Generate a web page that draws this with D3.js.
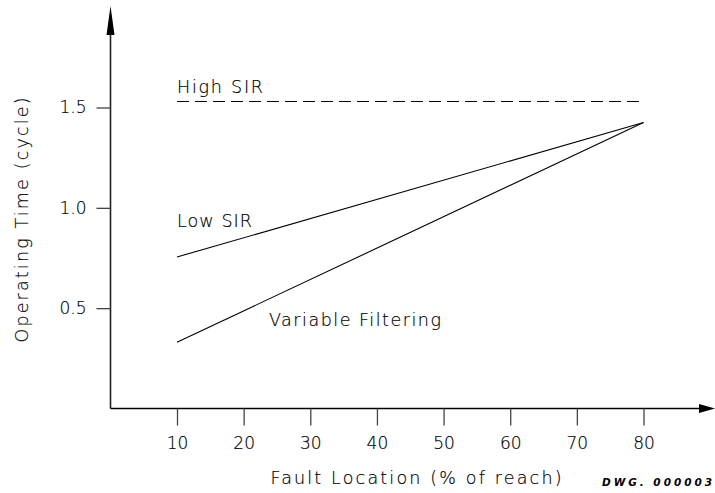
<!DOCTYPE html>
<html>
<head>
<meta charset="utf-8">
<script src="https://cdn.jsdelivr.net/npm/d3@7/dist/d3.min.js"></script>
<style>
  html, body { margin: 0; padding: 0; background: #fff; }
  svg { display: block; }
  text { font-family: "DejaVu Sans", "Liberation Sans", sans-serif; fill: #000; }
  .thin { font-weight: 200; stroke: #000; stroke-width: 0.18px; }
</style>
</head>
<body>
<svg id="chart" width="715" height="493"></svg>
<script>
// Operating time vs. fault location for three relay settings
const xTicks = [10, 20, 30, 40, 50, 60, 70, 80];
const yTicks = [0.5, 1.0, 1.5];
const yTickLabels = ["0.5", "1.0", "1.5"];

const highSIR = [{x: 10, y: 1.53}, {x: 80, y: 1.53}];
const lowSIR = [{x: 10, y: 0.755}, {x: 80, y: 1.425}];
const variableFiltering = [{x: 10, y: 0.33}, {x: 80, y: 1.425}];

const seriesLabels = [
  {text: "High SIR", x: 10, y: 1.572, len: 86},
  {text: "Low SIR", x: 10, y: 0.906, len: 75},
  {text: "Variable Filtering", x: 23.8, y: 0.41, len: 172}
];

const svg = d3.select("#chart");

const x = d3.scaleLinear().domain([10, 80]).range([177, 643.5]);
const y = d3.scaleLinear().domain([0, 1.5]).range([408.5, 107.5]);

const xMin = 110.5, xMax = 715, yMaxPx = 6;

// axes with arrowheads
const axisG = svg.append("g");
axisG.append("line")
  .attr("x1", xMin).attr("x2", xMin)
  .attr("y1", y(0)).attr("y2", yMaxPx + 20)
  .attr("stroke", "#222").attr("stroke-width", 1.6);
axisG.append("path")
  .attr("d", `M${xMin},${yMaxPx} L${xMin - 4},${yMaxPx + 29} L${xMin + 4},${yMaxPx + 29} Z`)
  .attr("fill", "#000");
axisG.append("line")
  .attr("x1", xMin).attr("x2", xMax - 10)
  .attr("y1", y(0)).attr("y2", y(0))
  .attr("stroke", "#000").attr("stroke-width", 1.6);
axisG.append("path")
  .attr("d", `M${xMax},${y(0)} L${xMax - 16},${y(0) - 4.5} L${xMax - 16},${y(0) + 4.5} Z`)
  .attr("fill", "#000");

// x ticks hang below the axis
const xAxis = d3.axisBottom(x).tickValues(xTicks).tickSize(17).tickPadding(11)
  .tickFormat(d3.format("d"));
const gx = svg.append("g").attr("transform", `translate(0,${y(0)})`).call(xAxis);
gx.select(".domain").remove();
gx.selectAll(".tick line").attr("stroke", "#444").attr("stroke-width", 1.3);
gx.selectAll(".tick text").attr("font-size", 17).attr("fill", "#000").attr("class", "thin")
  .style("font-family", "DejaVu Sans, sans-serif");

// y ticks point left from the axis
const yAxis = d3.axisLeft(y).tickValues(yTicks).tickSize(14).tickPadding(10)
  .tickFormat((d, i) => yTickLabels[i]);
const gy = svg.append("g").attr("transform", `translate(${xMin},0)`).call(yAxis);
gy.select(".domain").remove();
gy.selectAll(".tick line").attr("stroke", "#444").attr("stroke-width", 1.3);
gy.selectAll(".tick text").attr("font-size", 17).attr("fill", "#000").attr("class", "thin")
  .style("font-family", "DejaVu Sans, sans-serif");

// series lines
const line = d3.line().x(d => x(d.x)).y(d => y(d.y));
svg.append("path").datum(highSIR).attr("d", line)
  .attr("fill", "none").attr("stroke", "#000").attr("stroke-width", 1.1)
  .attr("stroke-dasharray", "12,6");
svg.append("path").datum(lowSIR).attr("d", line)
  .attr("fill", "none").attr("stroke", "#000").attr("stroke-width", 1.1);
svg.append("path").datum(variableFiltering).attr("d", line)
  .attr("fill", "none").attr("stroke", "#000").attr("stroke-width", 1.1);

// series labels
svg.selectAll("text.series").data(seriesLabels).enter().append("text")
  .attr("class", "series thin")
  .attr("x", d => x(d.x)).attr("y", d => y(d.y))
  .attr("font-size", 17.5)
  .attr("textLength", d => d.len).attr("lengthAdjust", "spacing")
  .text(d => d.text);

// axis titles
svg.append("text").attr("class", "thin")
  .attr("x", 416).attr("y", 484)
  .attr("text-anchor", "middle").attr("font-size", 17.5)
  .attr("textLength", 291).attr("lengthAdjust", "spacing")
  .text("Fault Location (% of reach)");
svg.append("text").attr("class", "thin")
  .attr("transform", "translate(28,220) rotate(-90)")
  .attr("text-anchor", "middle").attr("font-size", 17.5)
  .attr("textLength", 245).attr("lengthAdjust", "spacing")
  .text("Operating Time (cycle)");

// drawing number
svg.append("text")
  .attr("x", 712).attr("y", 486)
  .attr("text-anchor", "end").attr("font-size", 10.5)
  .attr("font-weight", "bold").attr("font-style", "italic")
  .attr("textLength", 110).attr("lengthAdjust", "spacing")
  .text("DWG. 000003");
</script>
</body>
</html>
